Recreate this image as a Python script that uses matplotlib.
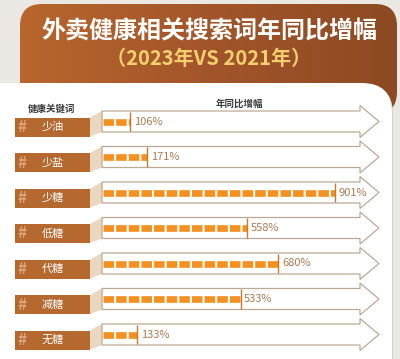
import numpy as np
import matplotlib
matplotlib.use("Agg")
import matplotlib.pyplot as plt
from matplotlib.patches import FancyBboxPatch, Polygon, Rectangle

plt.rcParams['font.family'] = ['Noto Sans CJK SC', 'DejaVu Sans']
plt.rcParams['lines.scale_dashes'] = False

# data
keywords = ["少油", "少盐", "少糖", "低糖", "代糖", "减糖", "无糖"]
growth = [106, 171, 901, 558, 680, 533, 133]
title = "外卖健康相关搜索词年同比增幅"
subtitle = "（2023年VS 2021年）"
left_header = "健康关键词"
right_header = "年同比增幅"

# colours
bg = "#ebe8e4"
box_col = "#b5692f"
hash_col = "#dca37a"
link_col = "#ead7bf"
arrow_edge = "#bca995"
seg_col = "#f39020"
tick_col = "#c9772c"
val_col = "#a97b52"

W, H = 400, 359
fig = plt.figure(figsize=(W / 100, H / 100), dpi=100, facecolor=bg)

# background axes in pixel units
ax = fig.add_axes([0, 0, 1, 1])
ax.set_xlim(0, W)
ax.set_ylim(H, 0)
ax.axis("off")

# brown header panel with horizontal gradient
head = FancyBboxPatch((20, 4), 377, 110, boxstyle="round,pad=0,rounding_size=22",
                      fc="none", ec="none")
ax.add_patch(head)
grad = np.linspace(0, 1, 256).reshape(1, -1)
cmap = matplotlib.colors.LinearSegmentedColormap.from_list(
    "hd", ["#b8662d", "#a3552a", "#8c4a22"])
im = ax.imshow(grad, cmap=cmap, extent=[20, 397, 114, 4], aspect="auto", zorder=1)
im.set_clip_path(head)

# shadow + white content panel
ax.add_patch(FancyBboxPatch((-40, 84), 433, 320, boxstyle="round,pad=0,rounding_size=30",
                            fc="#d2cec8", ec="none", zorder=2))
ax.add_patch(FancyBboxPatch((-40, 83), 432, 320, boxstyle="round,pad=0,rounding_size=30",
                            fc="white", ec="none", zorder=3))

ax.text(209, 31, title, color="white", fontsize=17.3, fontweight="bold",
        ha="center", va="center", zorder=5)
ax.text(209, 58, subtitle, color="#f3cf70", fontsize=14.5, fontweight="bold",
        ha="center", va="center", zorder=5)
ax.text(52, 109, left_header, color="#3a3a3a", fontsize=6.8, fontweight="bold",
        ha="center", va="center", zorder=5)
ax.text(239, 104, right_header, color="#3a3a3a", fontsize=6.8, fontweight="bold",
        ha="center", va="center", zorder=5)

# rows: label box, connector, arrow
row_h = 35.5
for i, kw in enumerate(keywords):
    yb = 127 + row_h * i
    ya = yb - 5.5
    ax.add_patch(Polygon([(90, yb - 9.5), (102, ya - 10.5), (102, ya + 10.5), (90, yb + 9.5)],
                         closed=True, fc=link_col, ec="none", zorder=4))
    ax.add_patch(Rectangle((15, yb - 9.5), 75, 19, fc=box_col, ec="none", zorder=4))
    ax.text(22, yb, "#", color=hash_col, fontsize=11, fontweight="bold",
            ha="center", va="center", zorder=5)
    ax.text(52.5, yb, kw, color="white", fontsize=8, ha="center", va="center", zorder=5)
    pts = [(102, ya - 10.5), (360, ya - 10.5), (360, ya - 16), (379, ya),
           (360, ya + 16), (360, ya + 10.5), (102, ya + 10.5)]
    ax.add_patch(Polygon(pts, closed=True, fc="white", ec=arrow_edge, lw=0.9, zorder=4))

# bar axes in percent units, one row per keyword
x0, x1 = 103, 379
px_per_pct = 0.258
top = 121.5 - row_h / 2
bot = top + row_h * len(keywords)
bx = fig.add_axes([x0 / W, 1 - bot / H, (x1 - x0) / W, (bot - top) / H])
bx.set_xlim(0, (x1 - x0) / px_per_pct)
bx.set_ylim(len(keywords) - 0.5, -0.5)
bx.axis("off")
bx.patch.set_alpha(0)

for i, v in enumerate(growth):
    bx.plot([0, v], [i, i], color=seg_col, lw=4.8, dashes=(7.6, 1.5),
            dash_capstyle="butt", zorder=3)
    bx.vlines(v, i - 0.27, i + 0.27, color=tick_col, lw=1, zorder=4)
    bx.annotate(f"{v}%", (v, i), xytext=(2.5, 0), textcoords="offset points",
                color=val_col, fontsize=8, ha="left", va="center", zorder=5)

fig.savefig("out.png", dpi=100, facecolor=bg)
